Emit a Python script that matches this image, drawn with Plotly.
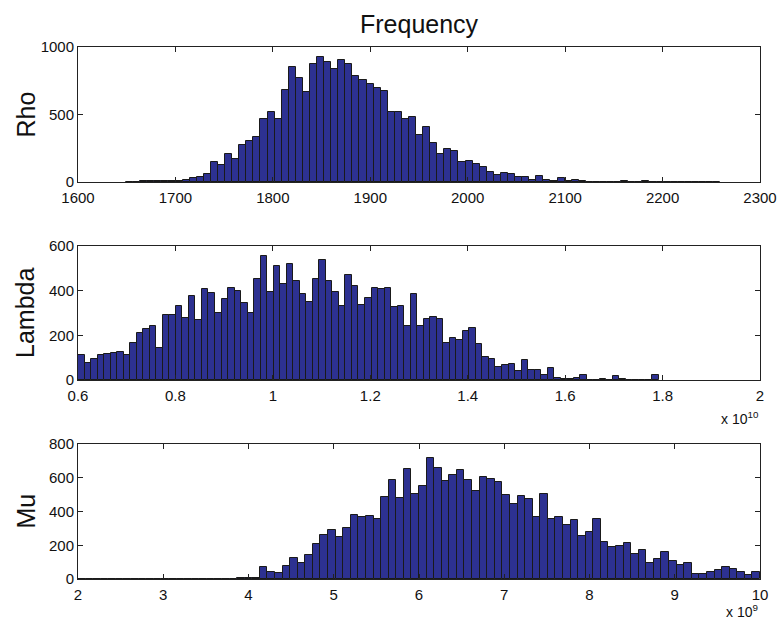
import numpy as np
import plotly.graph_objects as go

# ---------------- data ----------------
rho_bin_start = 1649.3
rho_bin_width = 7.26
rho_counts = [2, 3, 8, 4, 4, 7, 8, 10,
              17, 27, 35, 62, 146, 129, 208, 174, 273, 305, 337, 466, 521, 464,
              685, 854, 772, 667, 876, 926, 888, 836, 903, 873, 782, 752, 727, 695,
              672, 521, 521, 469, 479, 350, 409, 290, 206, 241, 226, 146, 156, 136,
              114, 77, 50, 67, 60, 40, 35, 12, 42, 12, 7, 28, 5, 17, 10, 3, 3, 2, 1,
              2, 10, 3, 2, 10, 2, 2, 3, 1, 2, 2, 1, 3, 2, 1]

lambda_bin_start = 0.6      # x 1e10
lambda_bin_width = 0.01339  # x 1e10
lambda_counts = [110, 74, 92, 110, 118, 121, 124, 113, 164, 211, 229, 240, 144, 292,
                 290, 333, 277, 374, 268, 408, 390, 299, 363, 411, 399, 345, 301, 453,
                 555, 393, 509, 432, 518, 445,
                 383, 348, 454, 539, 445, 393, 330, 470, 420, 335, 365, 412, 409, 412,
                 325, 332, 243, 387, 240, 274, 284, 275, 164, 188, 177, 218, 231, 159,
                 104, 95, 57, 66, 71, 39, 88,
                 45, 45, 21, 54, 9, 3, 3, 9, 22, 0, 1, 4, 0, 16, 3, 0, 0, 0, 0, 22]

mu_bin_start = 2.0          # x 1e9
mu_bin_width = 8.0 / 90     # x 1e9
mu_counts = [0] * 12 + [1, 0, 0, 1, 1, 0, 1, 2] + [1, 8, 8, 6] + \
            [73, 42, 36, 75, 125, 95, 145, 208, 261, 289, 250, 301, 378, 370, 376,
             356, 485, 586, 481, 651, 503, 550, 717, 655, 580] + \
            [614, 648, 588, 519, 604, 590, 574, 497, 446, 493, 475, 370, 503, 358, 366,
             321, 349, 253, 277, 358, 220, 188, 194, 214, 149] + \
            [174, 95, 117, 158, 105, 85, 93, 30, 30, 44, 51, 69, 57, 42, 24, 40]

rho_ticks = [1600, 1700, 1800, 1900, 2000, 2100, 2200, 2300]
lambda_ticks = [0.6, 0.8, 1.0, 1.2, 1.4, 1.6, 1.8, 2.0]
lambda_ticklabels = ["0.6", "0.8", "1", "1.2", "1.4", "1.6", "1.8", "2"]
mu_ticks = [2, 3, 4, 5, 6, 7, 8, 9, 10]

title_text = "Frequency"
ylabels = ["Rho", "Lambda", "Mu"]

# ---------------- figure ----------------
W, H = 777, 625
FILL = "#2D3191"
FONT = "Liberation Sans, Arial, Helvetica, sans-serif"


def centers(start, width, counts):
    return start + width * (np.arange(len(counts)) + 0.5)


fig = go.Figure()
series = [(rho_bin_start, rho_bin_width, rho_counts),
          (lambda_bin_start, lambda_bin_width, lambda_counts),
          (mu_bin_start, mu_bin_width, mu_counts)]
for i, (s, w, c) in enumerate(series):
    sfx = "" if i == 0 else str(i + 1)
    fig.add_trace(go.Bar(
        x=centers(s, w, c), y=c, width=w,
        marker=dict(color=FILL, line=dict(color="#1a1a1a", width=1)),
        xaxis="x" + sfx, yaxis="y" + sfx, showlegend=False, hoverinfo="x+y"))

# pixel layout
x0, x1 = 78, 760
rows = [(47, 182), (246, 380), (444, 579)]
xdom = [x0 / W, x1 / W]

axis_common = dict(showline=True, linecolor="#222", linewidth=1, mirror="allticks",
                   ticks="inside", ticklen=5, tickcolor="#222", tickwidth=1,
                   showgrid=False, zeroline=False, automargin=False,
                   tickfont=dict(family=FONT, size=15, color="#111"))

xranges = [[1600, 2300], [0.6, 2.0], [2, 10]]
yranges = [[0, 1000], [0, 600], [0, 800]]
xtickvals = [rho_ticks, lambda_ticks, mu_ticks]
xticktext = [[str(t) for t in rho_ticks], lambda_ticklabels, [str(t) for t in mu_ticks]]
ytickvals = [[0, 500, 1000], [0, 200, 400, 600], [0, 200, 400, 600, 800]]

layout = dict(width=W, height=H, margin=dict(l=0, r=0, t=0, b=0, autoexpand=False),
              paper_bgcolor="white", plot_bgcolor="white", bargap=0,
              font=dict(family=FONT, color="#111"))
for i in range(3):
    sfx = "" if i == 0 else str(i + 1)
    top, bot = rows[i]
    layout["xaxis" + sfx] = dict(axis_common, domain=xdom, range=xranges[i],
                                 tickvals=xtickvals[i], ticktext=xticktext[i],
                                 ticklabelstandoff=2, anchor="y" + sfx)
    layout["yaxis" + sfx] = dict(axis_common, domain=[1 - bot / H, 1 - top / H],
                                 range=yranges[i], tickvals=ytickvals[i],
                                 anchor="x" + sfx)
fig.update_layout(**layout)

ann = []
ann.append(dict(text=title_text, x=(x0 + x1) / 2 / W, y=1 - 24 / H, xref="paper", yref="paper",
                xanchor="center", yanchor="middle", showarrow=False,
                font=dict(family=FONT, size=25, color="#111")))
for i, lab in enumerate(ylabels):
    top, bot = rows[i]
    ann.append(dict(text=lab, x=25 / W, y=1 - (top + bot) / 2 / H, xref="paper", yref="paper",
                    xanchor="center", yanchor="middle", textangle=-90, showarrow=False,
                    font=dict(family=FONT, size=25, color="#111")))
ann.append(dict(text="x 10<sup>10</sup>", x=761 / W, y=1 - 418 / H, xref="paper", yref="paper",
                xanchor="right", yanchor="middle", showarrow=False,
                font=dict(family=FONT, size=14, color="#111")))
ann.append(dict(text="x 10<sup>9</sup>", x=760 / W, y=1 - 611 / H, xref="paper", yref="paper",
                xanchor="right", yanchor="middle", showarrow=False,
                font=dict(family=FONT, size=14, color="#111")))
fig.update_layout(annotations=ann)

fig.write_html("out.html")
